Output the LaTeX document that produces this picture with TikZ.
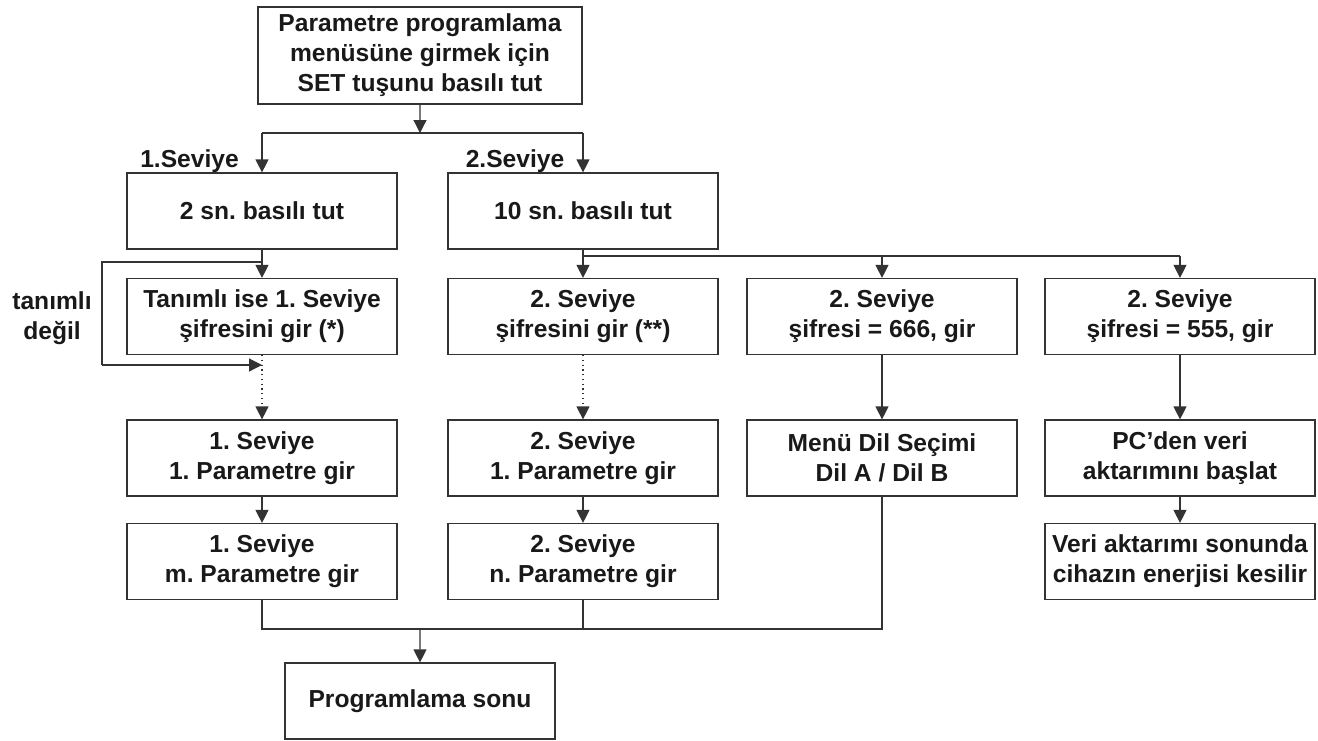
\documentclass[tikz,border=0pt]{standalone}
\usepackage{fontspec}
\setmainfont{Liberation Sans}
\usepackage{tikz}
\usetikzlibrary{shapes,arrows.meta}
\frenchspacing
\definecolor{cizgi}{gray}{0.2}
\definecolor{yazi}{gray}{0.1}
\tikzstyle{kutu} = [rectangle, draw=cizgi, line width=0.7pt, minimum width=5.4cm, minimum height=1.52cm, inner sep=0pt, align=center, text=yazi, font=\fontsize{14}{17}\selectfont\bfseries]
\tikzstyle{etiket} = [inner sep=0pt, align=center, text=yazi, font=\fontsize{14}{17}\selectfont\bfseries]
\tikzstyle{hat} = [draw=cizgi, line width=0.7pt]
\tikzstyle{oklu} = [hat, -{Triangle[length=0.26cm,width=0.26cm]}]

\begin{document}
\begin{tikzpicture}
        \useasboundingbox (0,0) rectangle (26.36,-14.8);
        \node (Set) [kutu, minimum width=6.48cm, minimum height=1.94cm, xshift=8.4cm, yshift=-1.11cm] {Parametre programlama\\ menüsüne girmek için\\ SET tuşunu basılı tut};

        \node (L1) [etiket, anchor=base, xshift=3.79cm, yshift=-3.34cm] {1.Seviye};
        \node (L2) [etiket, anchor=base, xshift=10.3cm, yshift=-3.34cm] {2.Seviye};
        \node (Sn2) [kutu, xshift=5.24cm, yshift=-4.22cm] {2 sn. basılı tut};
        \node (Sn10) [kutu, xshift=11.66cm, yshift=-4.22cm] {10 sn. basılı tut};

        \node (Td) [etiket, xshift=1.04cm, yshift=-6.36cm] {tanımlı\\ değil};
        \node (Sf1) [kutu, xshift=5.24cm, yshift=-6.33cm] {Tanımlı ise 1. Seviye\\ şifresini gir (*)};
        \node (Sf2) [kutu, xshift=11.66cm, yshift=-6.33cm] {2. Seviye\\ şifresini gir (**)};
        \node (Sf666) [kutu, xshift=17.64cm, yshift=-6.33cm] {2. Seviye\\ şifresi = 666, gir};
        \node (Sf555) [kutu, xshift=23.6cm, yshift=-6.33cm] {2. Seviye\\ şifresi = 555, gir};

        \node (P1a) [kutu, xshift=5.24cm, yshift=-9.16cm] {1. Seviye\\ 1. Parametre gir};
        \node (P2a) [kutu, xshift=11.66cm, yshift=-9.16cm] {2. Seviye\\ 1. Parametre gir};
        \node (Dil) [kutu, xshift=17.64cm, yshift=-9.16cm] {Menü Dil Seçimi\\ Dil A / Dil B};
        \node (PC) [kutu, xshift=23.6cm, yshift=-9.16cm] {PC’den veri\\ aktarımını başlat};

        \node (P1m) [kutu, xshift=5.24cm, yshift=-11.23cm] {1. Seviye\\ m. Parametre gir};
        \node (P2n) [kutu, xshift=11.66cm, yshift=-11.23cm] {2. Seviye\\ n. Parametre gir};
        \node (Kes) [kutu, xshift=23.6cm, yshift=-11.23cm] {Veri aktarımı sonunda\\ cihazın enerjisi kesilir};

        \node (Son) [kutu, xshift=8.4cm, yshift=-14.02cm] {Programlama sonu};

        % seviye secimi
        \coordinate (Ay1) at (8.4,-2.66);
        \path [oklu] (Set.south) -- (Ay1);
        \path [hat] (Sn2.north |- Ay1) -- (Sn10.north |- Ay1);
        \path [oklu] (Sn2.north |- Ay1) -- (Sn2.north);
        \path [oklu] (Sn10.north |- Ay1) -- (Sn10.north);

        % 1. seviye
        \coordinate (Td1) at (2.04,-5.24);
        \coordinate (Td2) at (2.04,-7.3);
        \path [oklu] (Sn2.south) -- (Sf1.north);
        \path [hat] (Sn2.south |- Td1) -- (Td1) -- (Td2);
        \path [oklu] (Td2) -- (Sf1.south |- Td2);
        \path [oklu, dotted] (Sf1.south) -- (P1a.north);
        \path [oklu] (P1a) -- (P1m);

        % 2. seviye
        \coordinate (Ay2) at (17.64,-5.12);
        \path [hat] (Sn10.south) -- (Sn10.south |- Ay2) -- (Sf555.north |- Ay2);
        \path [oklu] (Sn10.south |- Ay2) -- (Sf2.north);
        \path [oklu] (Sf666.north |- Ay2) -- (Sf666.north);
        \path [oklu] (Sf555.north |- Ay2) -- (Sf555.north);
        \path [oklu, dotted] (Sf2.south) -- (P2a.north);
        \path [oklu] (P2a) -- (P2n);
        \path [oklu] (Sf666) -- (Dil);
        \path [oklu] (Sf555) -- (PC);
        \path [oklu] (PC) -- (Kes);

        % programlama sonu
        \coordinate (Bir) at (8.4,-12.58);
        \path [hat] (P1m.south) -- (P1m.south |- Bir) -- (Dil.south |- Bir) -- (Dil.south);
        \path [hat] (P2n.south) -- (P2n.south |- Bir);
        \path [oklu] (Bir) -- (Son.north);

    \end{tikzpicture}
\end{document}
